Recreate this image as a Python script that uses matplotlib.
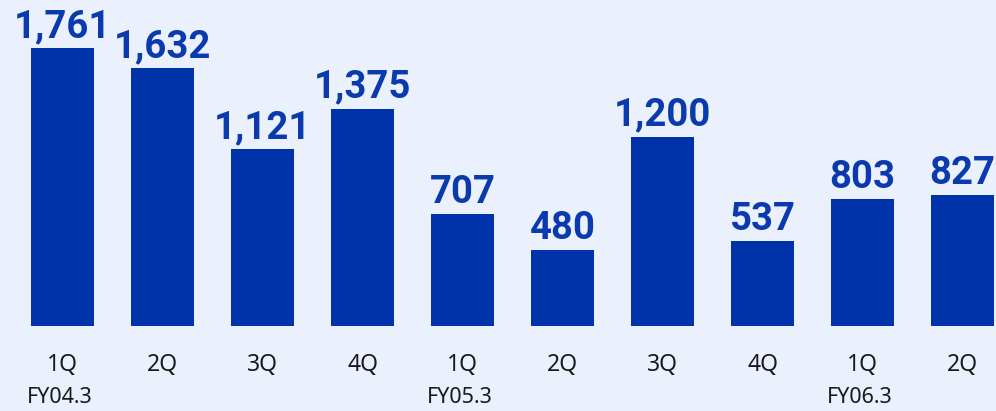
import matplotlib
matplotlib.use("Agg")
import matplotlib.pyplot as plt
from matplotlib.transforms import blended_transform_factory, offset_copy

quarters = ["1Q", "2Q", "3Q", "4Q", "1Q", "2Q", "3Q", "4Q", "1Q", "2Q"]
values = [1761, 1632, 1121, 1375, 707, 480, 1200, 537, 803, 827]
fiscal_years = ["FY04.3", "FY05.3", "FY06.3"]
fy_positions = [0, 4, 8]

bg = "#EBF0FD"
bar_color = "#0033AA"
label_color = "#0A3AAE"

fig = plt.figure(figsize=(9.96, 4.11), dpi=100)
fig.patch.set_facecolor(bg)
W, H = 996, 411
ax = fig.add_axes([0, 85 / H, 1, 326 / H])
ax.set_facecolor(bg)
x = list(range(len(values)))
bars = ax.bar(x, values, width=0.63, color=bar_color)
ax.set_xlim(-0.625, 9.335)
ax.set_ylim(0, 1761 * 326 / 278)
ax.axis("off")

for xi, v in zip(x, values):
    ax.annotate(f"{v:,}", (xi, v), xytext=(0, 8), textcoords="offset points",
                ha="center", va="baseline", fontsize=27.5, fontweight="bold",
                family="Roboto", color=label_color)

tr = blended_transform_factory(ax.transData, ax.transAxes)
for xi, q in zip(x, quarters):
    ax.text(xi, 0, q, transform=offset_copy(tr, fig=fig, x=0, y=-45, units="dots"),
            ha="center", va="baseline", fontsize=16.5, family="Noto Sans", color="#1a1a1a")
for xp, fy in zip(fy_positions, fiscal_years):
    ax.text(xp - 0.03, 0, fy, transform=offset_copy(tr, fig=fig, x=0, y=-77, units="dots"),
            ha="center", va="baseline", fontsize=15.5, family="Noto Sans", color="#1a1a1a")

fig.savefig("out.png", dpi=100, facecolor=bg)
